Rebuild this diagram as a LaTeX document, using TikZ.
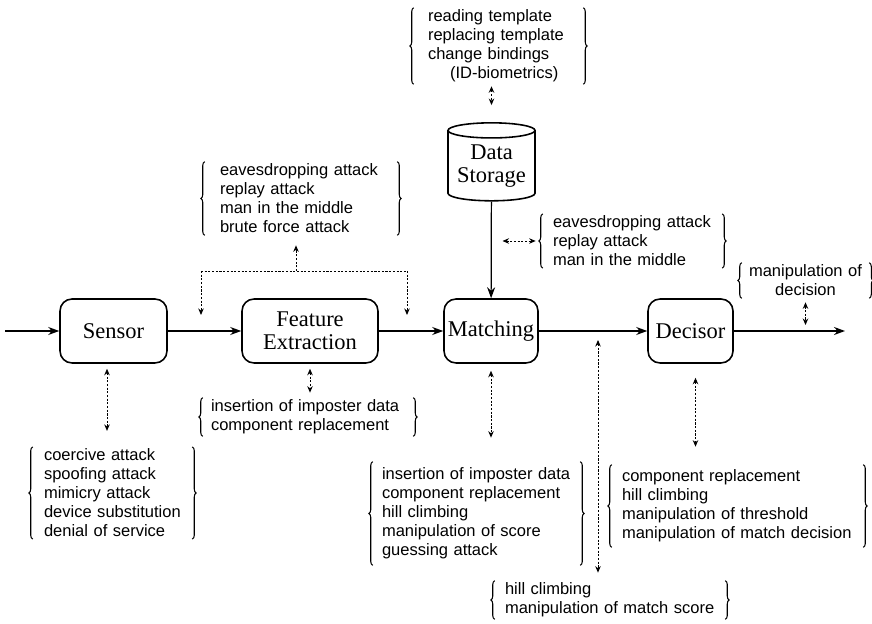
\documentclass[tikz,border=0pt]{standalone}
\usepackage{fontspec}
\setmainfont{Liberation Serif}
\setsansfont{Liberation Sans}
\usetikzlibrary{arrows.meta,shapes.geometric,decorations.pathreplacing}
\tikzset{
  blk/.style={draw, rounded corners=0.24cm, line width=0.9pt, align=center, inner sep=0pt,
              font=\fontsize{12.8}{13.2}\selectfont, minimum height=1.28cm},
  atk/.style={font=\sffamily\fontsize{9.4}{10.8}\selectfont, align=left, inner ysep=1pt},
  brc/.style={decorate, decoration={brace, amplitude=2.2pt}, line width=0.6pt},
  arr/.style={-{Stealth[length=2.2mm, width=1.6mm]}, line width=0.7pt},
  dat/.style={-{Stealth[length=1.3mm, width=1.1mm]}, dash pattern=on 1.2pt off 0.9pt, line width=0.5pt},
  datk/.style={dat, {Stealth[length=1.3mm, width=1.1mm]}-{Stealth[length=1.3mm, width=1.1mm]}},
}
\newcommand{\bracelist}[1]{%
  \draw[brc] (#1.south west) -- (#1.north west);
  \draw[brc] (#1.north east) -- (#1.south east);}

\begin{document}
\begin{tikzpicture}[x=0.02cm, y=-0.02cm]
  \useasboundingbox (0,0) rectangle (872,624);
  % processing chain
  \node[blk, minimum width=2.14cm] (sensor) at (113.5,331) {Sensor};
  \node[blk, minimum width=2.72cm] (feat) at (310,331) {Feature\\Extraction};
  \node[blk, minimum width=1.88cm] (match) at (491,331) {Matching};
  \node[blk, minimum width=1.70cm] (decis) at (690.5,331) {Decisor};
  \node[draw, cylinder, shape border rotate=90, aspect=0.22, line width=0.9pt, minimum width=1.74cm,
        minimum height=1.56cm, inner sep=0pt, font=\fontsize{12.8}{13.2}\selectfont]
        (store) at (491.5,166) {\raisebox{-0.11cm}{\begin{tabular}{@{}c@{}}Data\\Storage\end{tabular}}};
  \coordinate (in) at (5,331);
  \coordinate (out) at (845,331);
  % attack lists
  \node[atk, text width=2.82cm, inner xsep=0.28cm, minimum height=1.44cm] (tpl) at (498.5,46)
       {reading template\\replacing template\\change bindings\\\hspace*{0.44cm}(ID-biometrics)};
  \node[atk, text width=3.24cm, inner xsep=0.30cm, minimum height=1.46cm] (tx) at (301,198.5)
       {eavesdropping attack\\replay attack\\man in the middle\\brute force attack};
  \node[atk, text width=3.18cm, inner xsep=0.20cm, minimum height=1.00cm] (mx) at (632.5,241)
       {eavesdropping attack\\replay attack\\man in the middle};
  \node[atk, text width=2.30cm, inner xsep=0.12cm, minimum height=0.70cm, align=center] (dec) at (805.5,280.5)
       {manipulation of\\decision};
  \node[atk, text width=3.88cm, inner xsep=0.16cm, minimum height=0.76cm] (fx) at (308,417)
       {insertion of imposter data\\component replacement};
  \node[atk, text width=2.74cm, inner xsep=0.22cm, minimum height=1.80cm] (sx) at (112.5,493)
       {coercive attack\\spoofing attack\\mimicry attack\\device substitution\\denial of service};
  \node[atk, text width=3.78cm, inner xsep=0.18cm, minimum height=2.06cm] (mt) at (476.5,513.5)
       {insertion of imposter data\\component replacement\\hill climbing\\manipulation of score\\guessing attack};
  \node[atk, text width=4.20cm, inner xsep=0.20cm, minimum height=0.76cm] (hc) at (610,600)
       {hill climbing\\manipulation of match score};
  \node[atk, text width=4.62cm, inner xsep=0.20cm, minimum height=1.64cm] (dx) at (737.5,506)
       {component replacement\\hill climbing\\manipulation of threshold\\manipulation of match decision};
  \foreach \n in {tpl,tx,mx,dec,fx,sx,mt,hc,dx} {\bracelist{\n}}
  % main flow
  \draw[arr] (in) -- (sensor);
  \draw[arr] (sensor) -- (feat);
  \draw[arr] (feat) -- (match);
  \draw[arr] (match) -- (decis);
  \draw[arr] (decis) -- (out);
  \draw[arr] (store) -- (match);
  % attack points
  \draw[datk, shorten <=0.04cm, shorten >=0.34cm] (store.north |- tpl.south) -- (store.north);
  \draw[datk, shorten <=0.22cm, shorten >=0.14cm] (store.south |- mx.west) -- (mx.west);
  \coordinate (tj) at (296,271);
  \coordinate (tl) at (201,271);
  \coordinate (tr) at (407,271);
  \draw[dat, shorten >=0.2cm] (tj) -- (tj |- tx.south);
  \draw[dat, -] (tl) -- (tr);
  \draw[dat, shorten >=0.32cm] (tl) -- (tl |- sensor.east);
  \draw[dat, shorten >=0.32cm] (tr) -- (tr |- feat.east);
  \draw[datk, shorten <=0.1cm, shorten >=0.1cm] (feat.south) -- (feat.south |- fx.north);
  \draw[datk, shorten <=0.1cm, shorten >=0.32cm] ([xshift=-0.13cm]sensor.south) -- ([xshift=-0.13cm]sensor.south |- sx.north);
  \draw[datk, shorten <=0.14cm, shorten >=0.48cm] (match.south) -- (match.south |- mt.north);
  \draw[datk, shorten <=0.28cm, shorten >=0.36cm] ([xshift=0.1cm]decis.south) -- ([xshift=0.1cm]decis.south |- dx.north);
  \draw[datk, shorten <=0.18cm, shorten >=0.16cm] ([xshift=-0.24cm]hc.north |- match.east) -- ([xshift=-0.24cm]hc.north);
  \draw[datk, shorten <=0.08cm, shorten >=0.12cm] (dec.south) -- (dec.south |- decis.east);
\end{tikzpicture}
\end{document}
